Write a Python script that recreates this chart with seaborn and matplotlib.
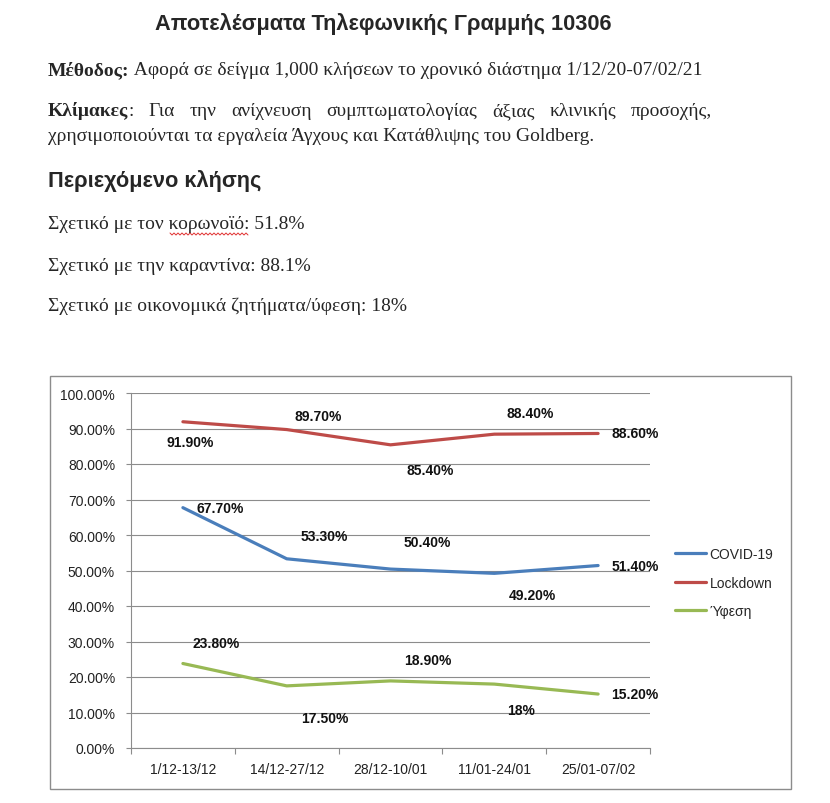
import numpy as np
import pandas as pd
import matplotlib
matplotlib.use("Agg")
import matplotlib.pyplot as plt
import seaborn as sns
from matplotlib.lines import Line2D
from matplotlib.patches import Rectangle

# ---------------- data ----------------
periods = ["1/12-13/12", "14/12-27/12", "28/12-10/01", "11/01-24/01", "25/01-07/02"]
covid = [67.7, 53.3, 50.4, 49.2, 51.4]
lockdown = [91.9, 89.7, 85.4, 88.4, 88.6]
yfesi = [23.8, 17.5, 18.9, 18.0, 15.2]
series_names = ["COVID-19", "Lockdown", "Ύφεση"]
yticks = list(range(0, 101, 10))

# label offsets (pixels, x right / y up) per series
label_offsets = {
    "COVID-19": [(37, 0), (38, 23), (37, 27), (38, -22), (37, 0)],
    "Lockdown": [(7, -20), (31, 14), (40, -25), (36, 21), (37, 0)],
    "Ύφεση": [(33, 21), (38, -32), (37, 21), (27, -26), (37, 0)],
}

sns.set_style("white")
plt.rcParams["font.family"] = ["Liberation Sans", "DejaVu Sans"]

W, H = 830, 804
fig = plt.figure(figsize=(W / 100, H / 100), dpi=100)
renderer = fig.canvas.get_renderer()

def fx(x):
    return x / W

def fy(y):
    return 1 - y / H

# ---------------- text block ----------------
def make_parts(x, y, parts, family, size):
    objs = []
    cx = x
    for txt, wt in parts:
        t = fig.text(fx(cx), fy(y), txt, family=family, fontsize=size,
                     fontweight=wt, va="baseline", ha="left")
        w = t.get_window_extent(renderer).width
        objs.append(t)
        cx += w
    return objs, cx - x

def fit_line(x, y, parts, family, target):
    objs, w = make_parts(x, y, parts, family, 12)
    for o in objs:
        o.remove()
    size = 12 * target / w
    make_parts(x, y, parts, family, size)
    return size

def justify_line(x, y, words, family, size, target):
    objs_w = []
    total = 0
    for word in words:
        objs, w = make_parts(0, y, word, family, size)
        for o in objs:
            o.remove()
        objs_w.append(w)
        total += w
    gap = (target - total) / (len(words) - 1)
    cx = x
    for word, w in zip(words, objs_w):
        make_parts(cx, y, word, family, size)
        cx += w + gap

serif = ["Liberation Serif", "DejaVu Serif"]
sans = ["Liberation Sans", "DejaVu Sans"]

fit_line(155, 30, [("Αποτελέσματα Τηλεφωνικής Γραμμής 10306", "bold")], sans, 453)
body_size = fit_line(48, 75, [("Μέθοδος:", "bold"),
                              (" Αφορά σε δείγμα 1,000 κλήσεων το χρονικό διάστημα 1/12/20-07/02/21", "normal")],
                     serif, 649)
line2 = "Για την ανίχνευση συμπτωματολογίας άξιας κλινικής προσοχής,".split()
words = [[("Κλίμακες", "bold"), (":", "normal")]] + [[(w, "normal")] for w in line2]
justify_line(48, 116, words, serif, body_size, 712 - 48)
make_parts(48, 141, [("χρησιμοποιούνται τα εργαλεία Άγχους και Κατάθλιψης του Goldberg.", "normal")],
           serif, body_size)
fit_line(48, 187, [("Περιεχόμενο κλήσης", "bold")], sans, 212)
make_parts(48, 229, [("Σχετικό με τον κορωνοϊό: 51.8%", "normal")], serif, body_size)
make_parts(48, 271, [("Σχετικό με την καραντίνα: 88.1%", "normal")], serif, body_size)
make_parts(48, 311, [("Σχετικό με οικονομικά ζητήματα/ύφεση: 18%", "normal")], serif, body_size)

# spell-check squiggle under "κορωνοϊό"
sx = np.arange(170, 249, 2.0)
sy = 235 + np.where(np.arange(len(sx)) % 2 == 0, -1.0, 1.0)
fig.add_artist(Line2D(fx(sx), fy(sy), transform=fig.transFigure, color="#E03030", lw=0.7))

# ---------------- chart frame ----------------
fig.add_artist(Rectangle((fx(50), fy(790)), (791 - 50) / W, (790 - 377) / H,
                         transform=fig.transFigure, fill=False, ec="#8C8C8C", lw=1.0))

ax = fig.add_axes([fx(131), fy(749), (650 - 131) / W, (749 - 394) / H])

df = pd.DataFrame({
    "period": periods * 3,
    "value": covid + lockdown + yfesi,
    "series": [n for n in series_names for _ in periods],
})
palette = {"COVID-19": "#4A7EBB", "Lockdown": "#BE4B48", "Ύφεση": "#98B954"}
sns.lineplot(data=df, x="period", y="value", hue="series", palette=palette,
             lw=2.3, ax=ax, sort=False, estimator=None, legend=False, zorder=3)

ax.set_xlim(-0.5, 4.5)
ax.set_ylim(0, 100)
ax.set_xlabel("")
ax.set_ylabel("")
ax.set_yticks(yticks)
ax.set_yticklabels([f"{t:.2f}%" for t in yticks])
ax.set_xticks(range(len(periods)))
ax.set_xticklabels(periods)
ax.set_xticks(np.arange(-0.5, len(periods), 1.0), minor=True)
grid_c = "#8C8C8C"
ax.yaxis.grid(True, color=grid_c, lw=0.8)
ax.xaxis.grid(False)
for s in ["top", "right"]:
    ax.spines[s].set_visible(False)
for s in ["left", "bottom"]:
    ax.spines[s].set_color(grid_c)
    ax.spines[s].set_linewidth(0.8)
ax.tick_params(axis="y", which="major", length=3.5, width=0.8, color=grid_c,
               direction="out", left=True, pad=8, labelsize=10, labelcolor="#222222")
ax.tick_params(axis="x", which="major", length=0, pad=10, labelsize=10, labelcolor="#222222")
ax.tick_params(axis="x", which="minor", length=4, width=0.8, color=grid_c,
               direction="out", bottom=True)
ax.set_facecolor("none")

series_vals = {"COVID-19": covid, "Lockdown": lockdown, "Ύφεση": yfesi}
for name in series_names:
    vals = series_vals[name]
    for i, v in enumerate(vals):
        lab = f"{v:.0f}%" if float(v).is_integer() else f"{v:.2f}%"
        dx, dy = label_offsets[name][i]
        ax.annotate(lab, (i, v), xytext=(dx, dy), textcoords="offset pixels",
                    ha="center", va="center", fontsize=10, fontweight="bold",
                    color="#111111", zorder=4)

handles = [Line2D([], [], color=palette[n], lw=2.3) for n in series_names]
fig.legend(handles, series_names, loc="upper left",
           bbox_to_anchor=(fx(675), fy(548)), bbox_transform=fig.transFigure,
           frameon=False, fontsize=10, handlelength=2.2, handletextpad=0.3,
           labelspacing=1.05, borderpad=0, borderaxespad=0)

fig.savefig("out.png", dpi=100)
